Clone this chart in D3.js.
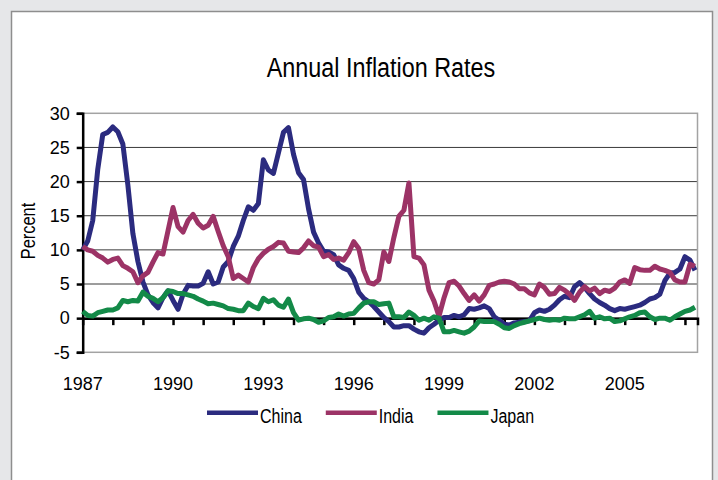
<!DOCTYPE html>
<html>
<head>
<meta charset="utf-8">
<script src="https://cdn.jsdelivr.net/npm/d3@7"></script>
<style>
  body { margin: 0; background: #e6e7e9; }
  svg { display: block; }
</style>
</head>
<body>
<div id="chart"></div>
<script>
// labels and data (monthly index, one value every 2 months)
const yearLabels = ["1987", "1990", "1993", "1996", "1999", "2002", "2005"];
const yTicks = [-5, 0, 5, 10, 15, 20, 25, 30];
const months = d3.range(0, 245, 2);

const china = [
  10.0, 11.3, 14.3, 21.8, 26.9, 27.2, 28.0, 27.3, 25.5, 19.5,
  12.4, 8.3, 5.3, 3.4, 2.3, 1.5, 3.0, 4.0, 2.6, 1.3,
  3.5, 4.8, 4.7, 4.7, 5.1, 6.8, 5.0, 5.3, 7.5, 8.3,
  10.5, 12.0, 14.3, 16.3, 15.8, 16.8, 23.2, 21.7, 21.2, 24.2,
  27.2, 27.9, 24.0, 21.3, 20.3, 16.0, 12.6, 11.0, 9.8, 9.7,
  9.3, 7.8, 7.3, 7.0, 5.8, 3.8, 2.9, 2.4, 1.7, 0.9,
  0.1, -0.5, -1.3, -1.3, -1.1, -1.1, -1.6, -2.0, -2.2, -1.4,
  -0.9, -0.3, 0.1, 0.1, 0.4, 0.2, 0.5, 1.4, 1.3, 1.5,
  1.8, 1.4, 0.2, -0.3, -0.9, -1.0, -0.7, -0.6, -0.5, -0.4,
  0.8, 1.2, 1.0, 1.3, 1.9, 2.7, 3.2, 3.0, 4.6, 5.2,
  4.5, 3.6, 2.8, 2.3, 1.9, 1.4, 1.1, 1.4, 1.3, 1.5,
  1.7, 1.9, 2.3, 2.8, 3.0, 3.5, 5.5, 6.6, 6.7, 7.2,
  9.0, 8.5, 7.0
];
const india = [
  10.5, 10.0, 9.8, 9.2, 8.8, 8.2, 8.6, 8.8, 7.7, 7.3,
  6.8, 5.2, 6.2, 6.7, 8.2, 9.6, 9.4, 12.8, 16.2, 13.4,
  12.6, 14.3, 15.2, 13.9, 13.2, 13.6, 14.9, 12.7, 10.6, 9.0,
  5.8, 6.3, 5.8, 5.3, 7.4, 8.7, 9.5, 10.1, 10.5, 11.1,
  11.0, 9.8, 9.7, 9.6, 10.3, 11.3, 10.6, 10.4, 9.0, 9.3,
  8.6, 8.8, 8.5, 9.6, 11.2, 10.2, 7.0, 5.2, 5.0, 5.6,
  9.7, 8.3, 11.8, 14.9, 15.8, 19.8, 9.0, 8.8, 7.8, 4.1,
  2.5, 0.3, 3.0, 5.2, 5.4, 4.7, 3.6, 2.6, 3.4, 2.5,
  3.4, 4.8, 5.0, 5.3, 5.4, 5.3, 5.0, 4.3, 4.3, 3.7,
  3.4, 5.0, 4.5, 3.5, 3.6, 4.5, 4.1, 3.5, 2.6, 3.8,
  4.6, 4.0, 4.4, 3.6, 4.1, 3.9, 4.4, 5.3, 5.6, 5.1,
  7.4, 7.1, 7.0, 7.0, 7.6, 7.2, 7.0, 6.7, 5.6, 5.3,
  5.3, 7.9, 7.6
];
const japan = [
  1.0, 0.4, 0.3, 0.8, 1.0, 1.2, 1.2, 1.5, 2.6, 2.4,
  2.6, 2.5, 3.8, 3.2, 2.9, 2.4, 3.0, 4.0, 3.9, 3.6,
  3.6, 3.4, 3.2, 2.8, 2.5, 2.1, 2.2, 2.0, 1.8, 1.4,
  1.3, 1.1, 1.1, 2.2, 1.7, 1.4, 2.9, 2.4, 2.7, 1.9,
  1.6, 2.8, 0.8, -0.3, -0.1, 0.0, -0.2, -0.6, -0.4, 0.1,
  0.2, 0.6, 0.3, 0.6, 0.7, 1.5, 2.2, 2.4, 2.4, 2.0,
  2.1, 2.2, 0.2, 0.2, 0.1, 0.9, 0.4, -0.3, 0.0, -0.3,
  0.2, 0.0, -2.0, -2.0, -1.8, -2.0, -2.2, -1.9, -1.3, -0.4,
  -0.5, -0.5, -0.5, -0.9, -1.4, -1.5, -1.1, -0.8, -0.6, -0.4,
  -0.2, 0.0, -0.2, -0.3, -0.2, -0.3, 0.0, -0.1, -0.1, 0.2,
  0.5, 1.0, 0.0, 0.2, -0.1, 0.0, -0.5, -0.4, -0.1, 0.2,
  0.4, 0.8, 0.9, 0.2, -0.2, 0.0, 0.0, -0.3, 0.2, 0.6,
  1.0, 1.2, 1.6
];
const seriesNames = ["China", "India", "Japan"];

const colors = ["#2b2b7f", "#9c3366", "#138a48"];
const width = 718;
const height = 480;
const plot = {left: 82.7, right: 697.5, top: 113.3, bottom: 352.3};
const font = "Liberation Sans, Arial, sans-serif";

const svg = d3.select("#chart")
              .append("svg")
              .attr("width", width)
              .attr("height", height);

// white chart panel
svg.append("rect")
   .attr("x", 11.5).attr("y", 11.5)
   .attr("width", 701).attr("height", 480)
   .attr("fill", "#fff")
   .attr("stroke", "#8e8e8e")
   .attr("stroke-width", 1.5);

const x = d3.scaleLinear().domain([0, 245]).range([plot.left, plot.right]);
const y = d3.scaleLinear().domain([-5, 30]).range([plot.bottom, plot.top]);

// squeeze text horizontally, the original uses a narrow face
function narrow(k) {
  return sel => sel.each(function() {
    const w = this.getComputedTextLength();
    d3.select(this).attr("textLength", w * k).attr("lengthAdjust", "spacingAndGlyphs");
  });
}

svg.append("text")
   .attr("x", 381).attr("y", 76.5)
   .attr("text-anchor", "middle")
   .attr("font-family", font)
   .attr("font-size", 27)
   .text("Annual Inflation Rates")
   .call(narrow(0.865));

// gridlines
svg.append("g")
   .selectAll("line").data(yTicks.filter(d => d > -5 && d < 30)).enter()
   .append("line")
   .attr("x1", plot.left).attr("x2", plot.right)
   .attr("y1", d => y(d)).attr("y2", d => y(d))
   .attr("stroke", "#3a3a3a").attr("stroke-width", 1);

// plot border
svg.append("rect")
   .attr("x", plot.left).attr("y", plot.top)
   .attr("width", plot.right - plot.left).attr("height", plot.bottom - plot.top)
   .attr("fill", "none")
   .attr("stroke", "#a3a3a3").attr("stroke-width", 1.5);

// x axis at zero with yearly ticks, labels every 36 months
const xAxis = d3.axisBottom(x)
    .tickValues(d3.range(12, 245, 12))
    .tickSize(7)
    .tickFormat("");
svg.append("g")
   .attr("transform", `translate(0,${y(0)})`)
   .call(xAxis)
   .call(g => g.select(".domain").attr("stroke", "#000").attr("stroke-width", 2.5))
   .call(g => g.selectAll(".tick line").attr("stroke", "#000").attr("stroke-width", 2.5));

svg.append("g")
   .selectAll("text").data(yearLabels).enter()
   .append("text")
   .attr("x", (d, i) => x(i * 36))
   .attr("y", 390)
   .attr("text-anchor", "middle")
   .attr("font-family", font)
   .attr("font-size", 18)
   .text(d => d);

// y axis
const yAxis = d3.axisLeft(y).tickValues(yTicks).tickSize(6).tickPadding(7)
    .tickFormat(d => String(d));
svg.append("g")
   .attr("transform", `translate(${plot.left},0)`)
   .call(yAxis)
   .call(g => g.select(".domain").attr("stroke", "#000").attr("stroke-width", 2.5))
   .call(g => g.selectAll(".tick line").attr("stroke", "#000").attr("stroke-width", 2.5))
   .call(g => g.selectAll(".tick text")
               .attr("font-family", font)
               .attr("font-size", 18).attr("fill", "#000"));

svg.append("text")
   .attr("transform", "translate(35,231) rotate(-90)")
   .attr("text-anchor", "middle")
   .attr("font-family", font)
   .attr("font-size", 20)
   .text("Percent")
   .call(narrow(0.82));

// series lines
const series = [china, india, japan];
const line = d3.line()
    .x((d, i) => x(months[i]))
    .y(d => y(d));

svg.append("g")
   .selectAll("path").data(series).enter()
   .append("path")
   .attr("d", line)
   .attr("fill", "none")
   .attr("stroke", (d, i) => colors[i])
   .attr("stroke-width", 5)
   .attr("stroke-linejoin", "round");

// legend
const legend = svg.append("g");
let lx = 207;
seriesNames.forEach((name, i) => {
  legend.append("line")
        .attr("x1", lx).attr("x2", lx + 51)
        .attr("y1", 412.8).attr("y2", 412.8)
        .attr("stroke", colors[i]).attr("stroke-width", 4.5);
  const t = legend.append("text")
        .attr("x", lx + 53).attr("y", 423)
        .attr("font-family", font)
        .attr("font-size", 19.5)
        .text(name);
  const w = t.node().getComputedTextLength() * 0.82;
  t.attr("textLength", w).attr("lengthAdjust", "spacingAndGlyphs");
  lx += 53 + w + 24;
});
</script>
</body>
</html>
